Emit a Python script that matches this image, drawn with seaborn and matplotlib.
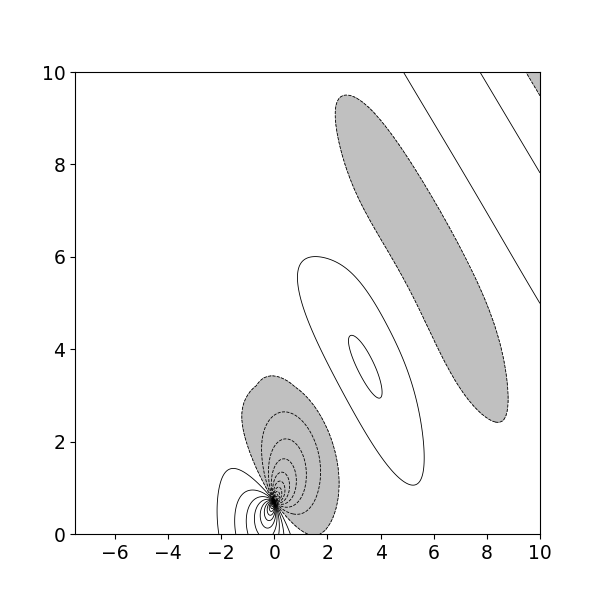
import numpy as np
import matplotlib
matplotlib.use("Agg")
import matplotlib.pyplot as plt
import seaborn as sns

# point where all near-field contours meet
source_x = 0.0
source_y = 0.7

# far field: wave travelling along beam_angle (deg)
beam_angle = 46.0
wavelength = 6.4
lobe_n = 8.37            # middle of the big shaded lobe, measured along the beam
background = 0.5
bend = 0.035             # how much the wave fronts curve back

# wave amplitude: far value, bump around the inner closed loop, dip at the source
far_amp = 0.9
bump_amp = 0.75
bump_at = 4.9
bump_width = 0.9
dip_amp = 0.15
dip_at = 1.6

# near field: strength, axis (deg) and reach
near_strength = 3.2
near_angle = 50.0
near_reach = 2.6

neg_levels = [-20, -19, -18, -17, -16, -15, -14, -13, -12, -11,
              -10, -9, -8, -7, -6, -5, -4, -3, -2, -1]
pos_levels = [1, 2, 3, 4, 5, 6, 7, 8, 9, 10,
              11, 12, 13, 14, 15, 16, 17, 18, 19, 20]
x_ticks = [-6, -4, -2, 0, 2, 4, 6, 8, 10]
y_ticks = [0, 2, 4, 6, 8, 10]


def field(x, y):
    a = np.radians(beam_angle)
    n = x * np.cos(a) + y * np.sin(a)      # along the beam
    t = -x * np.sin(a) + y * np.cos(a)     # across the beam

    # wave fronts bend back towards the source, less so further out
    ne = n + bend / (1 + np.exp((n - 9.3) / 0.5)) * (t - 1.0) ** 2

    amp = (far_amp
           + bump_amp * np.exp(-((ne - bump_at) / bump_width) ** 2)
           - dip_amp * np.exp(-((ne - dip_at) / 0.9) ** 2))
    amp = amp / (1 + np.exp(-n / 0.5))

    # beam profile: gaussian near the source, flatter further out
    mid = np.exp(-((n - 5) / 1.5) ** 2)
    centre = 0.15 + 1.5 * np.exp(-(n / 3.0) ** 2) - 0.2 * mid
    width = 2.4 + 0.6 * mid + 0.17 * np.maximum(ne - 4.5, 0) ** 2
    power = 2 + 2 / (1 + np.exp(-(n - 6.5) / 0.5))
    g = np.exp(-np.abs((t - centre) / width) ** power)
    wave = -amp * g * np.cos(2 * np.pi * (ne - lobe_n) / wavelength)

    dx = x - source_x
    dy = y - source_y
    r = np.hypot(dx, dy) + 1e-9
    th = np.arctan2(dy, dx)
    core = np.log(near_reach / r).clip(min=0)
    dip = -near_strength * np.cos(th - np.radians(near_angle)) * core
    return background + wave + dip


xs = np.linspace(-7.5, 10, 1400)
ys = np.linspace(0, 10, 900)
X, Y = np.meshgrid(xs, ys)
Z = field(X, Y)

sns.set_style("ticks", {"axes.edgecolor": "black", "xtick.color": "black",
                        "ytick.color": "black", "xtick.major.size": 3.5,
                        "ytick.major.size": 3.5})

fig, ax = plt.subplots(figsize=(6, 6), dpi=100)
ax.contourf(X, Y, Z, levels=[Z.min() - 1, 0], colors="silver")
ax.contour(X, Y, Z, levels=neg_levels + [0], colors="k",
           linewidths=0.6, linestyles="dashed")
ax.contour(X, Y, Z, levels=pos_levels, colors="k",
           linewidths=0.6, linestyles="solid")

ax.set_xlim(-7.5, 10)
ax.set_ylim(0, 10)
ax.set_xticks(x_ticks)
ax.set_yticks(y_ticks)
ax.tick_params(labelsize=13.5)
for s in ax.spines.values():
    s.set_visible(True)
    s.set_linewidth(0.8)

fig.savefig("out.png", dpi=100)
